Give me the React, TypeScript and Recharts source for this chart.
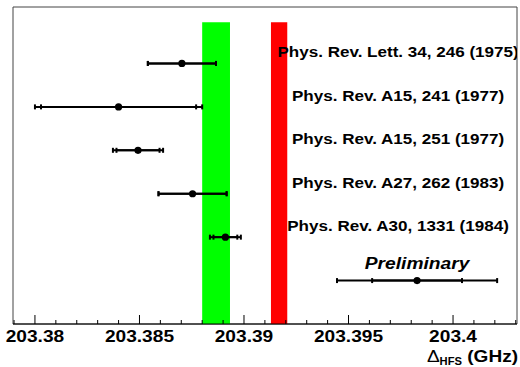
import React from "react";
import {
  ScatterChart,
  Scatter,
  XAxis,
  YAxis,
  ErrorBar,
  ReferenceArea,
} from "recharts";

// ---- data ----
const references = [
  "Phys. Rev. Lett. 34, 246 (1975)",
  "Phys. Rev. A15, 241 (1977)",
  "Phys. Rev. A15, 251 (1977)",
  "Phys. Rev. A27, 262 (1983)",
  "Phys. Rev. A30, 1331 (1984)",
  "Preliminary",
];
const rows = [6, 5, 4, 3, 2, 1];
const values = [203.38703, 203.384, 203.38493, 203.38754, 203.38911, 203.39828];
const totalErrors = [0.00163, 0.004, 0.0012, 0.00163, 0.00074, 0.00383];
const statErrors = [0.00163, 0.00371, 0.00103, 0.00163, 0.00057, 0.00215];

const greenBand = [203.388, 203.38933];
const redBand = [203.39129, 203.39207];

const xTicks = [
  203.379, 203.38, 203.381, 203.382, 203.383, 203.384, 203.385, 203.386,
  203.387, 203.388, 203.389, 203.39, 203.391, 203.392, 203.393, 203.394,
  203.395, 203.396, 203.397, 203.398, 203.399, 203.4, 203.401, 203.402,
  203.403,
];
const majorTicks = [203.38, 203.385, 203.39, 203.395, 203.4];
const majorTickLabels = ["203.38", "203.385", "203.39", "203.395", "203.4"];

const X_DOMAIN: [number, number] = [203.37895, 203.40306];
const Y_DOMAIN: [number, number] = [0, 7.3];
const BAND_TOP = 6.95;
const LABEL_X = 203.39737;

const points = values.map((v, i) => ({
  x: v,
  y: rows[i],
  tot: totalErrors[i],
  stat: statErrors[i],
}));

const labelData = references.map((r, i) => ({
  x: i === references.length - 1 ? values[i] : LABEL_X,
  y: rows[i],
  text: r,
  prelim: i === references.length - 1,
}));

const FONT = "'Liberation Sans', Arial, Helvetica, sans-serif";
const STRETCH = 1.1;

const Tick = (props: any) => {
  const { x, y, payload } = props;
  const v = payload.value;
  const idx = majorTicks.findIndex((m) => Math.abs(m - v) < 1e-7);
  const major = idx >= 0;
  return (
    <g>
      <line x1={x} x2={x} y1={y} y2={y - (major ? 9 : 4)} stroke="#000" strokeWidth={1} />
      {major && (
        <g transform={`translate(${x},${y + 18}) scale(1.16,1)`}>
          <text
            x={0}
            y={0}
            textAnchor="middle"
            fontFamily={FONT}
            fontWeight="bold"
            fontSize={16.5}
            fill="#000"
          >
            {majorTickLabels[idx]}
          </text>
        </g>
      )}
    </g>
  );
};

const AxisTitle = (props: any) => {
  const vb = props.viewBox || { x: 13, y: 324, width: 504, height: 43 };
  const x = vb.x + vb.width + 1;
  const y = vb.y + 38;
  return (
    <g transform={`translate(${x},${y}) scale(1.12,1)`}>
      <text x={0} y={0} textAnchor="end" fontFamily={FONT} fill="#000">
        <tspan fontSize={17}>Δ</tspan>
        <tspan fontSize={10} fontWeight="bold" dy={3}>
          HFS
        </tspan>
        <tspan fontSize={17} fontWeight="bold" dy={-3}>
          {" (GHz)"}
        </tspan>
      </text>
    </g>
  );
};

const Dot = (props: any) => {
  const { cx, cy } = props;
  if (cx == null || cy == null) return null;
  return <circle cx={cx} cy={cy} r={3.6} fill="#000" />;
};

const LabelShape = (props: any) => {
  const { cx, cy, payload } = props;
  if (cx == null || cy == null) return null;
  const prelim = payload.prelim;
  return (
    <g transform={`translate(${cx},${cy - (prelim ? 12 : 6)}) scale(${prelim ? 1.13 : STRETCH},1)`}>
      <text
        x={0}
        y={0}
        textAnchor="middle"
        fontFamily={FONT}
        fontWeight="bold"
        fontStyle={prelim ? "italic" : "normal"}
        fontSize={prelim ? 17 : 15.5}
        fill="#000"
      >
        {payload.text}
      </text>
    </g>
  );
};

export default function App() {
  return (
    <div style={{ position: "absolute", left: 0, top: 0, width: 520, height: 367, background: "#fff" }}>
      <ScatterChart
        width={520}
        height={367}
        margin={{ top: 7, right: 3, bottom: 0, left: 13 }}
      >
        <XAxis
          type="number"
          dataKey="x"
          domain={X_DOMAIN}
          allowDataOverflow
          ticks={xTicks}
          interval={0}
          tick={<Tick />}
          tickLine={false}
          tickSize={0}
          tickMargin={0}
          height={43}
          axisLine={{ stroke: "#000", strokeWidth: 1 }}
          label={<AxisTitle />}
        />
        <YAxis type="number" dataKey="y" domain={Y_DOMAIN} allowDataOverflow hide width={0} />
        <ReferenceArea
          x1={X_DOMAIN[0]}
          x2={X_DOMAIN[1]}
          y1={Y_DOMAIN[0]}
          y2={Y_DOMAIN[1]}
          fill="none"
          stroke="#444"
          strokeWidth={1}
          ifOverflow="visible"
        />
        <ReferenceArea
          x1={greenBand[0]}
          x2={greenBand[1]}
          y1={Y_DOMAIN[0]}
          y2={BAND_TOP}
          fill="#00ff00"
          fillOpacity={1}
          stroke="none"
        />
        <ReferenceArea
          x1={redBand[0]}
          x2={redBand[1]}
          y1={Y_DOMAIN[0]}
          y2={BAND_TOP}
          fill="#ff0000"
          fillOpacity={1}
          stroke="none"
        />
        <Scatter data={points} shape={<Dot />} isAnimationActive={false}>
          <ErrorBar dataKey="tot" direction="x" width={2.5} strokeWidth={2} stroke="#000" />
          <ErrorBar dataKey="stat" direction="x" width={2.5} strokeWidth={2} stroke="#000" />
        </Scatter>
        <Scatter data={labelData} shape={<LabelShape />} isAnimationActive={false} />
      </ScatterChart>
    </div>
  );
}
